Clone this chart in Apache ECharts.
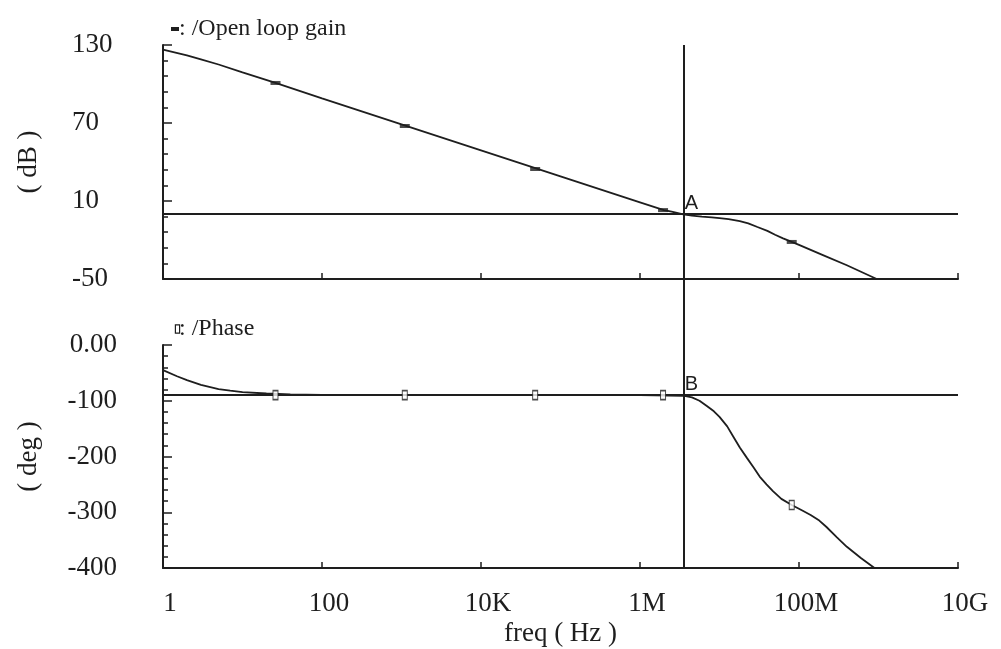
<!DOCTYPE html>
<html>
<head>
<meta charset="utf-8">
<script src="https://cdn.jsdelivr.net/npm/echarts@6/dist/echarts.min.js"></script>
<style>html,body{margin:0;padding:0;background:#fff;}#c{width:1001px;height:649px;}</style>
</head>
<body>
<div id="c"></div>
<script>
// ---- data (frequencies in Hz) ----
const magFreq = [1, 2, 3, 5, 10, 26, 100, 1e3, 1e4, 1e5, 1e6, 2e6, 2.5e6, 3.5e6, 4.5e6, 6e6, 8e6, 1e7, 1.3e7, 1.8e7, 2.3e7, 3e7, 4e7, 5e7, 6.3e7, 8.1e7, 1e8, 2e8, 4e8, 9.5e8];
const magDb   = [126.5, 122, 119, 115, 109, 100.8, 89, 69, 49, 29, 9, 3, 1.8, -0.3, -1.2, -2, -2.6, -3.2, -4, -5.4, -7.2, -10, -13, -16, -18.7, -21.5, -23.8, -31.6, -39.4, -50];

const phaseFreq = [1, 1.5, 2, 3, 5, 7, 10, 20, 40, 100, 1e3, 1e4, 1e5, 1e6, 3.5e6, 4.5e6, 5.6e6, 7e6, 8.5e6, 1e7, 1.25e7, 1.5e7, 1.8e7, 2.2e7, 2.7e7, 3.2e7, 3.9e7, 4.7e7, 6e7, 8.1e7, 1.1e8, 1.4e8, 1.8e8, 2.2e8, 3e8, 4e8, 6e8, 8.9e8];
const phaseDeg  = [-45, -56, -63, -71.5, -79, -82, -84.5, -87, -88.5, -89.5, -90, -90, -90, -90, -91, -94, -100, -110, -119, -129, -146, -165, -184, -202, -220, -236, -250, -262, -276, -287, -297, -305, -315, -326, -345, -362, -382, -400];

const markerFreq  = [26, 1.1e3, 4.8e4, 1.95e6, 8.1e7];
const magMarker   = [100.8, 67.7, 34.6, 3, -21.5];
const phaseMarker = [-90, -90, -90, -90, -287];

const crossFreq = 3.5e6;   // vertical cursor through A and B
const gainRef = 0;         // 0 dB line
const phaseRef = -90;      // -90 deg line

const xTickLabels = ['1', '100', '10K', '1M', '100M', '10G'];
const magLabelValues = [-50, 10, 70, 130];
const magMajorTicks = [-50, 10, 70, 130];
const magMinorTicks = [-38, -26, -14, -2, 22, 34, 46, 58, 82, 94, 106, 118];
const phaseLabels = {'0': '0.00', '-100': '-100', '-200': '-200', '-300': '-300', '-400': '-400'};

const serif = 'Liberation Serif';
const ink = '#1e1e1e';
const zip = (a, b) => a.map((v, i) => [v, b[i]]);

const xBase = (gi, show) => ({
  type: 'log', logBase: 10, gridIndex: gi, min: 1, max: 1e10, interval: 2,
  show: show,
  axisLine: {show: true, onZero: false, lineStyle: {color: ink, width: 2}},
  axisTick: {show: true, inside: true, length: 6, lineStyle: {color: ink, width: 1.5}},
  axisLabel: {show: false},
  splitLine: {show: false}
});

const option = {
  animation: false,
  backgroundColor: '#fff',
  textStyle: {fontFamily: serif},
  title: [
    {left: 166, top: 12, text: '{m|}: /Open loop gain',
     textStyle: {fontFamily: serif, fontSize: 24, fontWeight: 'normal', color: ink,
       rich: {m: {width: 8, height: 4, backgroundColor: ink, verticalAlign: 'middle'}}}},
    {left: 171, top: 312, text: '{p|}: /Phase',
     textStyle: {fontFamily: serif, fontSize: 24, fontWeight: 'normal', color: ink,
       rich: {p: {width: 3, height: 7, borderColor: ink, borderWidth: 1.2, backgroundColor: '#fff', verticalAlign: 'middle'}}}}
  ],
  grid: [
    {left: 163, right: 43, top: 45, height: 234},
    {left: 163, right: 43, top: 345, height: 223},
    {left: 163, right: 43, top: 45, height: 523}
  ],
  xAxis: [
    xBase(0, true),
    Object.assign(xBase(1, true), {
      axisLabel: {show: true, fontFamily: serif, fontSize: 27, color: ink, margin: 22,
        padding: [0, 0, 0, 14],
        formatter: v => xTickLabels[Math.round(Math.log10(v) / 2)] },
      name: 'freq ( Hz )', nameLocation: 'middle', nameGap: 52,
      nameTextStyle: {fontFamily: serif, fontSize: 27, color: ink}
    }),
    Object.assign(xBase(2, false), {show: false})
  ],
  yAxis: [
    {type: 'value', gridIndex: 0, min: -50, max: 130, position: 'left',
     axisLine: {show: true, onZero: false, lineStyle: {color: ink, width: 2}},
     axisTick: {show: true, inside: true, length: 9, customValues: magMajorTicks, lineStyle: {color: ink, width: 1.5}},
     axisLabel: {show: true, customValues: magLabelValues, align: 'left', margin: 91,
       fontFamily: serif, fontSize: 27, color: ink, padding: [0, 0, 10, 0]},
     splitLine: {show: false},
     name: '( dB )', nameLocation: 'middle', nameGap: 121, nameRotate: 90,
     nameTextStyle: {fontFamily: serif, fontSize: 27, color: ink}},
    {type: 'value', gridIndex: 1, min: -400, max: 0, interval: 100, position: 'left',
     axisLine: {show: true, onZero: false, lineStyle: {color: ink, width: 2}},
     axisTick: {show: true, inside: true, length: 9, lineStyle: {color: ink, width: 1.5}},
     minorTick: {show: true, splitNumber: 5, length: 5, lineStyle: {color: ink, width: 1.5}},
     axisLabel: {show: true, align: 'right', margin: 46, fontFamily: serif, fontSize: 27, color: ink,
       padding: [0, 0, 10, 0], formatter: v => phaseLabels[String(v)] || String(v)},
     splitLine: {show: false},
     name: '( deg )', nameLocation: 'middle', nameGap: 121, nameRotate: 90,
     nameTextStyle: {fontFamily: serif, fontSize: 27, color: ink}},
    {type: 'value', gridIndex: 2, min: 0, max: 1, show: false},
    {type: 'value', gridIndex: 0, min: -50, max: 130, position: 'left', offset: 0,
     axisLine: {show: false, onZero: false},
     axisTick: {show: true, inside: true, length: 5, customValues: magMinorTicks, lineStyle: {color: ink, width: 1.5}},
     axisLabel: {show: false},
     splitLine: {show: false}}
  ],
  series: [
    {name: 'gain', type: 'line', xAxisIndex: 0, yAxisIndex: 0,
     data: zip(magFreq, magDb), smooth: false, symbol: 'none',
     lineStyle: {color: ink, width: 1.8},
     markLine: {silent: true, symbol: 'none', label: {show: false},
       lineStyle: {color: ink, width: 1.8, type: 'solid'}, data: [{yAxis: gainRef}]},
     markPoint: {symbol: 'circle', symbolSize: 1, itemStyle: {color: 'rgba(0,0,0,0)'},
       label: {show: true, formatter: 'A', position: [2, -20], align: 'left', verticalAlign: 'top',
         fontFamily: 'Liberation Sans', fontSize: 20, color: ink},
       data: [{coord: [crossFreq, gainRef]}]}},
    {name: 'gainMarks', type: 'scatter', xAxisIndex: 0, yAxisIndex: 0,
     data: zip(markerFreq, magMarker), symbol: 'rect', symbolSize: [10, 4],
     itemStyle: {color: ink}, z: 5},
    {name: 'phase', type: 'line', xAxisIndex: 1, yAxisIndex: 1,
     data: zip(phaseFreq, phaseDeg), smooth: false, symbol: 'none',
     lineStyle: {color: ink, width: 1.8},
     markLine: {silent: true, symbol: 'none', label: {show: false},
       lineStyle: {color: ink, width: 1.8, type: 'solid'}, data: [{yAxis: phaseRef}]},
     markPoint: {symbol: 'circle', symbolSize: 1, itemStyle: {color: 'rgba(0,0,0,0)'},
       label: {show: true, formatter: 'B', position: [2, -20], align: 'left', verticalAlign: 'top',
         fontFamily: 'Liberation Sans', fontSize: 20, color: ink},
       data: [{coord: [crossFreq, phaseRef]}]}},
    {name: 'phaseMarks', type: 'scatter', xAxisIndex: 1, yAxisIndex: 1,
     data: zip(markerFreq, phaseMarker), symbol: 'rect', symbolSize: [5, 9],
     itemStyle: {color: '#fff', borderColor: ink, borderWidth: 1.3}, z: 5},
    {name: 'cursor', type: 'line', xAxisIndex: 2, yAxisIndex: 2, data: [],
     markLine: {silent: true, symbol: 'none', label: {show: false},
       lineStyle: {color: ink, width: 2, type: 'solid'}, data: [{xAxis: crossFreq}]}}
  ]
};

const chart = echarts.init(document.getElementById('c'), null, {renderer: 'canvas'});
chart.setOption(option);
</script>
</body>
</html>
